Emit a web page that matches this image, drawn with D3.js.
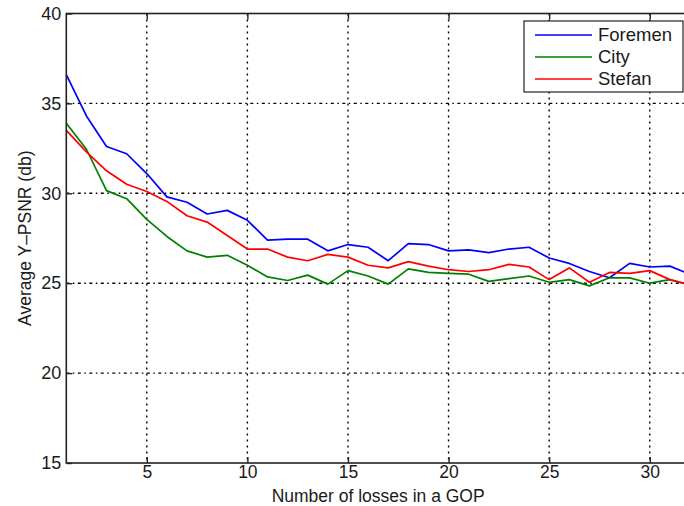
<!DOCTYPE html>
<html>
<head>
<meta charset="utf-8">
<script src="https://cdn.jsdelivr.net/npm/d3@7"></script>
<style>
  body { margin: 0; background: #fff; }
  svg { display: block; }
  text { font-family: Arial, "Liberation Sans", sans-serif; fill: #1a1a1a; }
</style>
</head>
<body>
<svg id="chart" width="684" height="506"></svg>
<script>
// Number of losses in a GOP
const losses = [1,2,3,4,5,6,7,8,9,10,11,12,13,14,15,16,17,18,19,20,21,22,23,24,25,26,27,28,29,30,31,32];

// Average Y-PSNR (db) per sequence
const foremen = [36.6,34.3,32.6,32.2,31.1,29.8,29.5,28.85,29.05,28.5,27.4,27.45,27.45,26.8,27.15,27.0,26.25,27.2,27.15,26.8,26.85,26.7,26.9,27.0,26.4,26.1,25.65,25.3,26.1,25.9,25.95,25.5];
const city    = [33.9,32.45,30.15,29.7,28.55,27.6,26.8,26.45,26.55,26.0,25.35,25.15,25.45,24.95,25.7,25.4,24.95,25.8,25.6,25.55,25.5,25.1,25.25,25.4,25.05,25.2,24.85,25.3,25.3,25.0,25.2,24.9];
const stefan  = [33.5,32.3,31.25,30.5,30.1,29.55,28.75,28.4,27.65,26.9,26.9,26.45,26.25,26.6,26.45,26.0,25.85,26.2,25.95,25.75,25.65,25.75,26.05,25.9,25.2,25.85,25.05,25.6,25.55,25.7,25.2,24.9];

const seriesNames = ["Foremen", "City", "Stefan"];
const seriesValues = [foremen, city, stefan];
const seriesColors = ["#0000ff", "#008000", "#ff0000"];

const xTicks = [5, 10, 15, 20, 25, 30];
const yTicks = [15, 20, 25, 30, 35, 40];

const plotLeft = 66.3, plotRight = 690, plotTop = 13.5, plotBottom = 463;

const svg = d3.select("#chart");
const x = d3.scaleLinear().domain([1, 32]).range([plotLeft, plotRight]);
const y = d3.scaleLinear().domain([15, 40]).range([plotBottom, plotTop]);

// dotted grid
const grid = svg.append("g").attr("stroke", "#000").attr("stroke-width", 1.4);
grid.selectAll("line.v").data(xTicks).join("line")
  .attr("class", "v")
  .attr("x1", d => x(d)).attr("x2", d => x(d))
  .attr("y1", plotTop).attr("y2", plotBottom)
  .attr("stroke-dasharray", "2,4");
grid.selectAll("line.h").data(yTicks.filter(d => d > 15 && d < 40)).join("line")
  .attr("class", "h")
  .attr("x1", plotLeft).attr("x2", plotRight)
  .attr("y1", d => y(d)).attr("y2", d => y(d))
  .attr("stroke-dasharray", "3,3.5,1.5,3.5");

// series lines
const line = d3.line().x((d, i) => x(losses[i])).y(d => y(d));
svg.append("g").selectAll("path").data(seriesValues).join("path")
  .attr("d", d => line(d))
  .attr("fill", "none")
  .attr("stroke", (d, i) => seriesColors[i])
  .attr("stroke-width", 1.7)
  .attr("stroke-linejoin", "round");

// axes, ticks pointing inward
const fs = "17.5px";
const xAxis = svg.append("g").attr("transform", `translate(0,${plotBottom})`)
  .call(d3.axisBottom(x).tickValues(xTicks).tickSizeInner(-6).tickSizeOuter(0).tickPadding(3));
const yAxis = svg.append("g").attr("transform", `translate(${plotLeft},0)`)
  .call(d3.axisLeft(y).tickValues(yTicks).tickSizeInner(-6).tickSizeOuter(0).tickPadding(5));
const tAxis = svg.append("g").attr("transform", `translate(0,${plotTop})`)
  .call(d3.axisTop(x).tickValues(xTicks).tickSizeInner(-6).tickSizeOuter(0).tickFormat(""));
const rAxis = svg.append("g").attr("transform", `translate(${plotRight},0)`)
  .call(d3.axisRight(y).tickValues(yTicks).tickSizeInner(-6).tickSizeOuter(0).tickFormat(""));
[xAxis, yAxis, tAxis, rAxis].forEach(a => {
  a.select(".domain").remove();
  a.selectAll(".tick line").attr("stroke", "#222").attr("stroke-width", 1.4);
  a.selectAll("text").attr("font-size", "18px").attr("font-family", null).attr("fill", "#1a1a1a");
});
xAxis.selectAll("text").attr("font-size", fs);

// axes box
svg.append("rect")
  .attr("x", plotLeft).attr("y", plotTop)
  .attr("width", plotRight - plotLeft).attr("height", plotBottom - plotTop)
  .attr("fill", "none").attr("stroke", "#222").attr("stroke-width", 1.6);

// axis titles
svg.append("text")
  .attr("x", (plotLeft + plotRight) / 2).attr("y", 502)
  .attr("text-anchor", "middle").attr("font-size", fs)
  .text("Number of losses in a GOP");
svg.append("text")
  .attr("transform", `translate(31,${(plotTop + plotBottom) / 2}) rotate(-90)`)
  .attr("text-anchor", "middle").attr("font-size", "17.5px")
  .text("Average Y\u2013PSNR (db)");

// legend
const lg = svg.append("g");
lg.append("rect")
  .attr("x", 524).attr("y", 21).attr("width", 159).attr("height", 71)
  .attr("fill", "#fff").attr("stroke", "#222").attr("stroke-width", 1.2);
const rows = lg.selectAll("g.row").data(seriesNames).join("g")
  .attr("class", "row")
  .attr("transform", (d, i) => `translate(0,${35 + i * 22})`);
rows.append("line")
  .attr("x1", 535).attr("x2", 592).attr("y1", 0).attr("y2", 0)
  .attr("stroke", (d, i) => seriesColors[i]).attr("stroke-width", 1.6);
rows.append("text")
  .attr("x", 598).attr("y", 0).attr("dy", "0.35em")
  .attr("font-size", "18.5px")
  .text(d => d);
</script>
</body>
</html>
